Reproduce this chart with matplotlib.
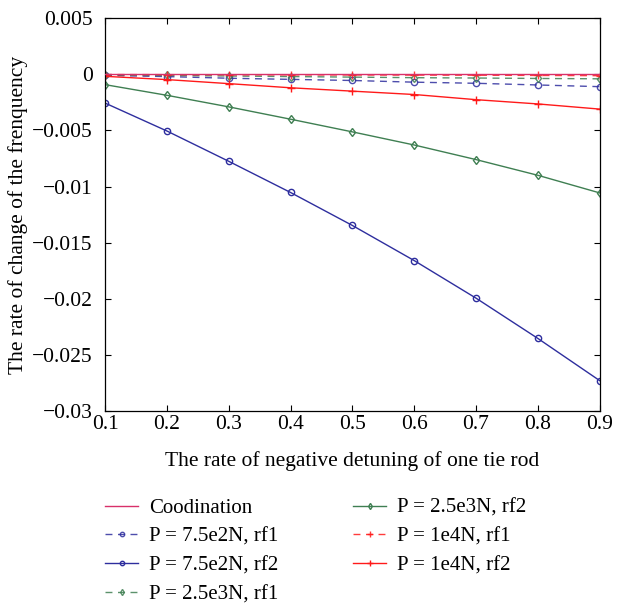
import matplotlib
matplotlib.use("Agg")
import matplotlib.pyplot as plt

x = [0.1, 0.2, 0.3, 0.4, 0.5, 0.6, 0.7, 0.8, 0.9]
coordination = [0, 0, 0, 0, 0, 0, 0, 0, 0]
p750_rf1 = [-0.0001, -0.0002, -0.00035, -0.00045, -0.00055, -0.0007, -0.0008, -0.00095, -0.0011]
p750_rf2 = [-0.00256, -0.00505, -0.00775, -0.01053, -0.01347, -0.0166, -0.01995, -0.02354, -0.0273]
p2500_rf1 = [-0.00005, -0.0001, -0.00015, -0.0002, -0.00025, -0.0003, -0.00033, -0.00037, -0.0004]
p2500_rf2 = [-0.00092, -0.00187, -0.0029, -0.0040, -0.00513, -0.0063, -0.0076, -0.0090, -0.01057]
p1e4_rf1 = [-0.00002, -0.00003, -0.00004, -0.00005, -0.00006, -0.00007, -0.00008, -0.0001, -0.00012]
p1e4_rf2 = [-0.00018, -0.00047, -0.00083, -0.0012, -0.0015, -0.0018, -0.00226, -0.00264, -0.0031]

labels = ["Coodination", "P = 7.5e2N, rf1", "P = 7.5e2N, rf2", "P = 2.5e3N, rf1",
          "P = 2.5e3N, rf2", "P = 1e4N, rf1", "P = 1e4N, rf2"]
xticks = [0.1, 0.2, 0.3, 0.4, 0.5, 0.6, 0.7, 0.8, 0.9]
yticks = [0.005, 0, -0.005, -0.01, -0.015, -0.02, -0.025, -0.03]
yticklabels = ["0.005", "0", "\u22120.005", "\u22120.01", "\u22120.015", "\u22120.02", "\u22120.025", "\u22120.03"]

plt.rcParams['font.family'] = ['Liberation Serif', 'DejaVu Serif']
plt.rcParams['font.size'] = 15.5

fig = plt.figure(figsize=(6.27, 6.07), dpi=100)
ax = fig.add_axes([0.1675, 0.323, 0.789, 0.647])

blue = '#2e2e9e'
green = '#3f7f52'
red = '#ff1a1a'
pink = '#d8306a'
ms = 4.5

ax.plot(x, coordination, color=pink, lw=1.0, label=labels[0], zorder=5)
ax.plot(x, p750_rf1, color=blue, ls=(0, (5, 4)), lw=1.0, marker='o', ms=ms, mfc='none', mew=1.0, alpha=0.85, label=labels[1])
ax.plot(x, p750_rf2, color=blue, lw=1.0, marker='o', ms=ms, mfc='none', mew=1.0, label=labels[2])
ax.plot(x, p2500_rf1, color=green, ls=(0, (5, 4)), lw=1.0, marker='d', ms=ms, mfc='none', mew=1.0, alpha=0.85, label=labels[3])
ax.plot(x, p2500_rf2, color=green, lw=1.0, marker='d', ms=ms, mfc='none', mew=1.0, label=labels[4])
ax.plot(x, p1e4_rf1, color=red, ls=(0, (5, 4)), lw=1.0, marker='+', ms=6, mew=1.0, alpha=0.85, label=labels[5])
ax.plot(x, p1e4_rf2, color=red, lw=1.0, marker='+', ms=6, mew=1.0, label=labels[6])

ax.set_xlim(0.1, 0.9)
ax.set_ylim(-0.03, 0.005)
ax.set_xticks(xticks)
ax.set_xticklabels([str(v) for v in xticks])
ax.set_yticks(yticks)
ax.set_yticklabels(yticklabels)
ax.tick_params(direction='in', top=True, right=True, length=4, width=0.8)
ax.tick_params(axis='x', pad=3)
ax.tick_params(axis='y', pad=9)
for s in ax.spines.values():
    s.set_linewidth(0.9)

ax.set_xlabel("The rate of negative detuning of one tie rod", labelpad=12)
ax.set_ylabel("The rate of change of the frenquency")
ax.yaxis.set_label_coords(-0.155, 0.5)

fig.legend(loc='upper left', bbox_to_anchor=(0.1675, 0.179), ncol=2, frameon=False,
           handlelength=1.6, columnspacing=3.6, labelspacing=0.44, handletextpad=0.5,
           markerscale=0.7, fontsize=15, borderaxespad=0, borderpad=0)

fig.savefig("out.png", dpi=100)
